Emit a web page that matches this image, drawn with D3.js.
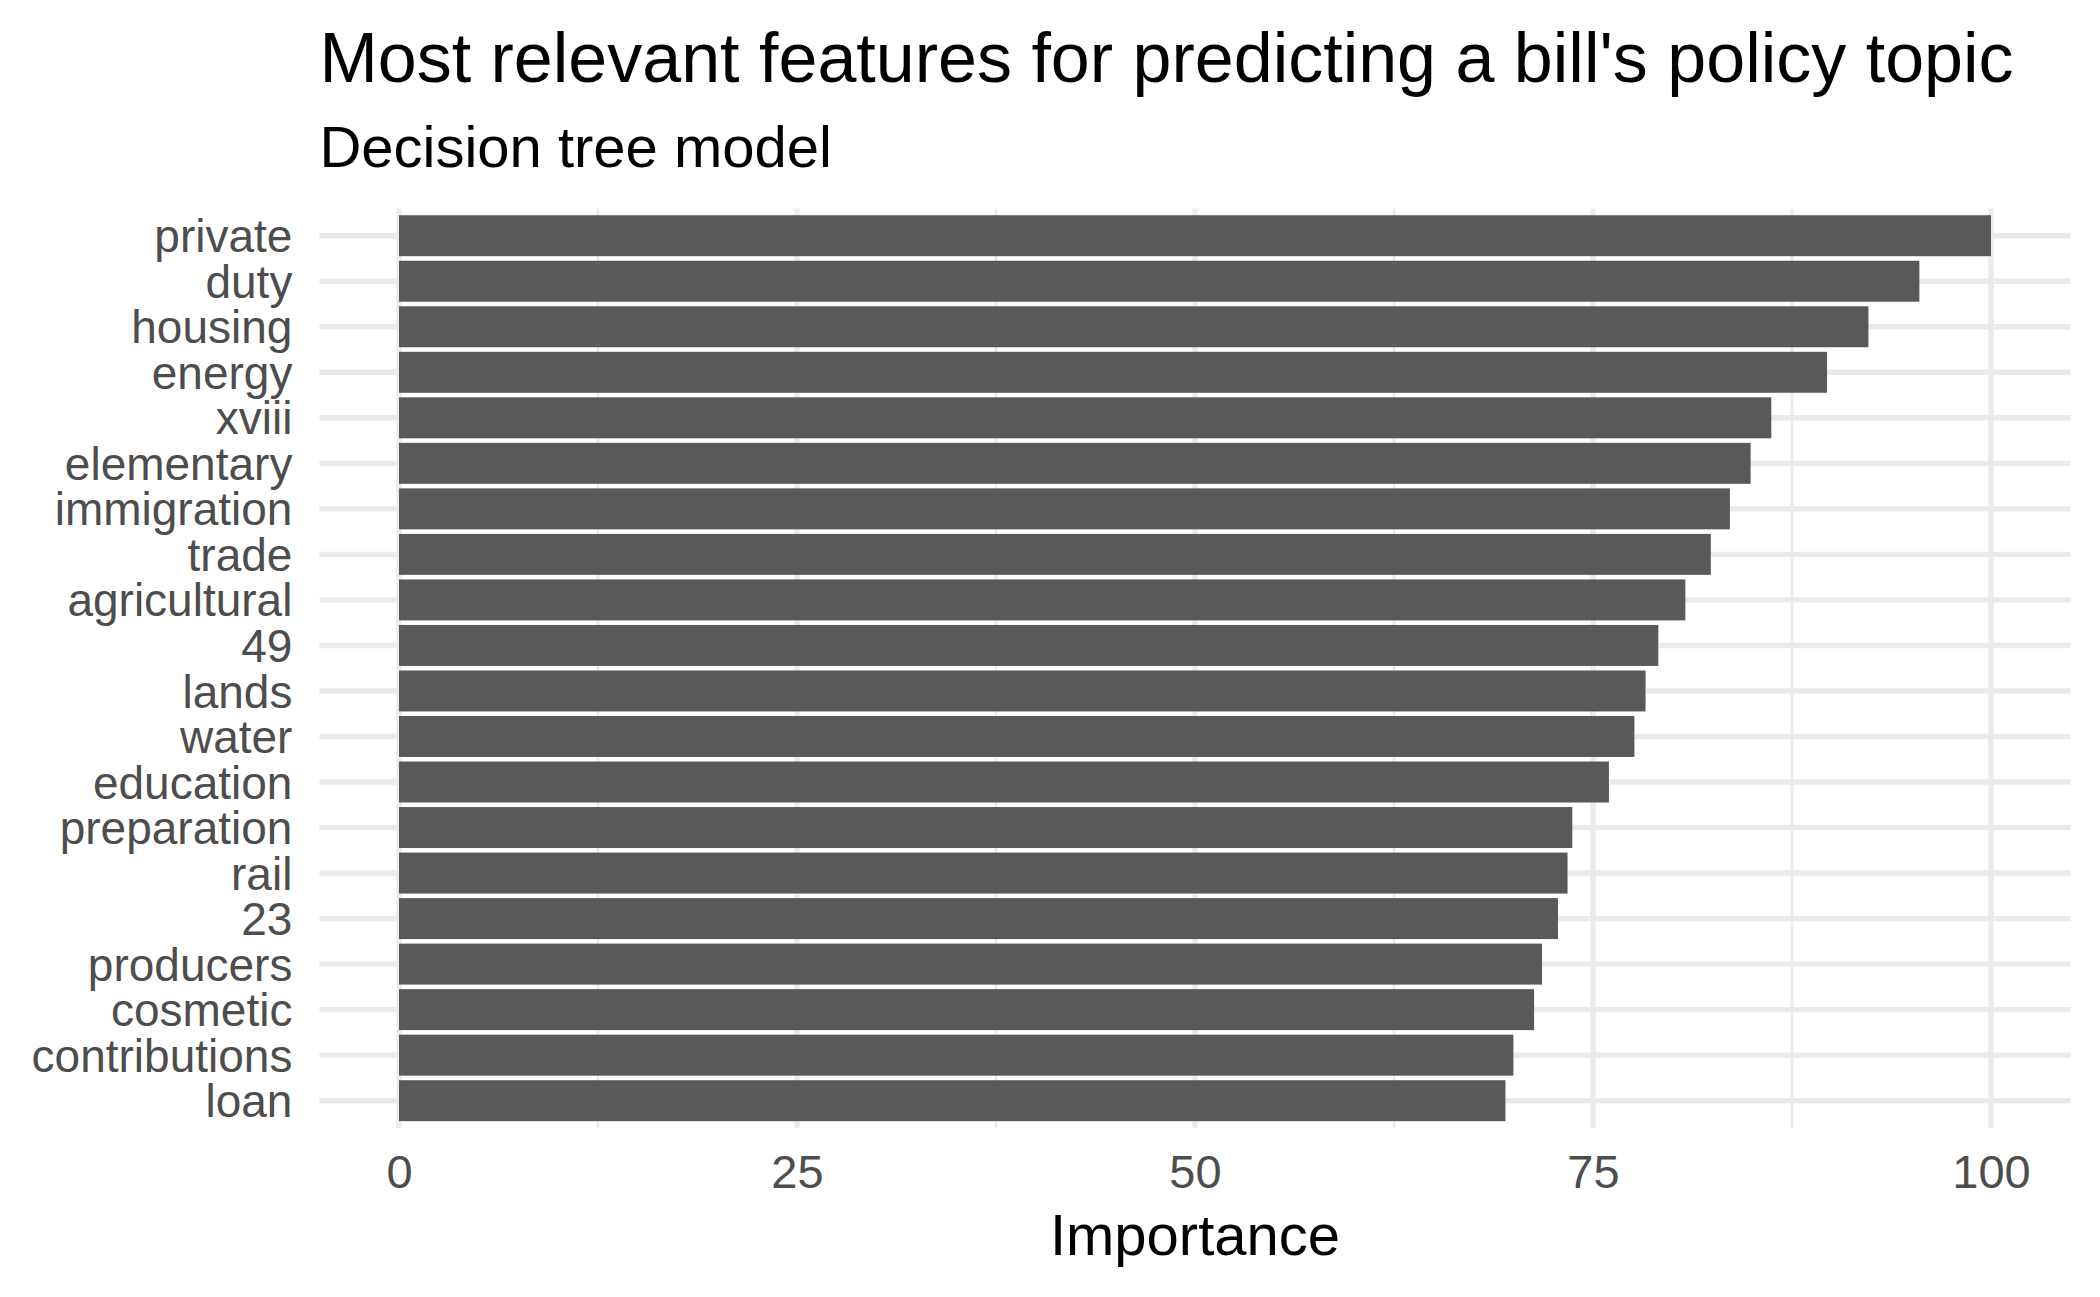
<!DOCTYPE html>
<html>
<head>
  <title>Feature importance</title>
  <meta charset="UTF-8">
  <script src="https://cdn.jsdelivr.net/npm/d3@7"></script>
  <style>
    body { margin: 0; background: #fff; }
    text { font-family: "Liberation Sans", Arial, Helvetica, sans-serif; }
  </style>
</head>
<body>
<script>

  // feature names, top to bottom
  var features = ["private", "duty", "housing", "energy", "xviii", "elementary",
    "immigration", "trade", "agricultural", "49", "lands", "water", "education",
    "preparation", "rail", "23", "producers", "cosmetic", "contributions", "loan"];

  // importance of each feature
  var importance = [100, 95.5, 92.3, 89.7, 86.2, 84.9, 83.6, 82.4, 80.8, 79.1,
    78.3, 77.6, 76.0, 73.7, 73.4, 72.8, 71.8, 71.3, 70.0, 69.5];

  var majorTicks = [0, 25, 50, 75, 100];
  var minorTicks = [12.5, 37.5, 62.5, 87.5];

  var width = 2100,
    height = 1297;

  var panel = { left: 319.4, right: 2070.6, top: 208.4, bottom: 1128 };

  var data = features.map((f, i) => ({ name: f, value: importance[i] }));

  // ggplot style 5% expansion on each side
  var x = d3.scaleLinear()
    .domain([-5, 105])
    .range([panel.left, panel.right]);

  var y = d3.scaleBand()
    .domain(features)
    .range([panel.top, panel.bottom])
    .paddingInner(0.1)
    .paddingOuter(0.15);

  var svg = d3.select("body").append("svg")
    .attr("width", width)
    .attr("height", height);

  var grid = svg.append("g");

  // minor grid
  grid.selectAll("line.minor")
    .data(minorTicks)
    .enter().append("line")
    .attr("class", "minor")
    .attr("x1", d => x(d)).attr("x2", d => x(d))
    .attr("y1", panel.top).attr("y2", panel.bottom)
    .attr("stroke", "#ebebeb")
    .attr("stroke-width", 2.7);

  // major grid, vertical
  grid.selectAll("line.vmajor")
    .data(majorTicks)
    .enter().append("line")
    .attr("class", "vmajor")
    .attr("x1", d => x(d)).attr("x2", d => x(d))
    .attr("y1", panel.top).attr("y2", panel.bottom)
    .attr("stroke", "#ebebeb")
    .attr("stroke-width", 5.4);

  // major grid, horizontal
  grid.selectAll("line.hmajor")
    .data(features)
    .enter().append("line")
    .attr("class", "hmajor")
    .attr("x1", panel.left).attr("x2", panel.right)
    .attr("y1", d => y(d) + y.bandwidth() / 2)
    .attr("y2", d => y(d) + y.bandwidth() / 2)
    .attr("stroke", "#ebebeb")
    .attr("stroke-width", 5.4);

  svg.append("g")
    .selectAll("rect")
    .data(data)
    .enter().append("rect")
    .attr("x", x(0))
    .attr("y", d => y(d.name))
    .attr("width", d => x(d.value) - x(0))
    .attr("height", y.bandwidth())
    .attr("fill", "#595959");

  // y axis labels
  var yAxis = svg.append("g")
    .attr("transform", `translate(${panel.left - 27},0)`)
    .call(d3.axisLeft(y).tickSize(0).tickPadding(0));
  yAxis.select(".domain").remove();
  yAxis.selectAll("text")
    .attr("font-size", 46)
    .attr("fill", "#4d4d4d")
    .attr("dy", "0.36em");

  // x axis labels
  var xAxis = svg.append("g")
    .attr("transform", `translate(0,${panel.bottom})`)
    .call(d3.axisBottom(x).tickValues(majorTicks).tickSize(0).tickPadding(0));
  xAxis.select(".domain").remove();
  xAxis.selectAll("text")
    .attr("font-size", 47)
    .attr("fill", "#4d4d4d")
    .attr("dy", null)
    .attr("y", 60);

  svg.append("text")
    .attr("x", (panel.left + panel.right) / 2)
    .attr("y", 1255)
    .attr("text-anchor", "middle")
    .attr("font-size", 58)
    .attr("fill", "#000")
    .text("Importance");

  svg.append("text")
    .attr("x", panel.left)
    .attr("y", 82)
    .attr("font-size", 70)
    .attr("fill", "#000")
    .text("Most relevant features for predicting a bill's policy topic");

  svg.append("text")
    .attr("x", panel.left)
    .attr("y", 167)
    .attr("font-size", 58)
    .attr("fill", "#000")
    .text("Decision tree model");

</script>
</body>
</html>
